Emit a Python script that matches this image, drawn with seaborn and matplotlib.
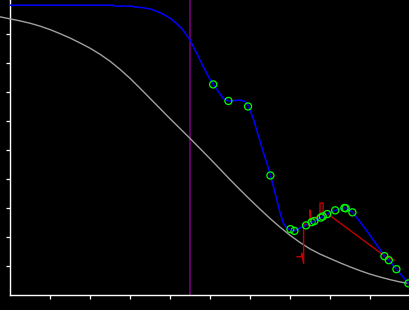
import matplotlib
matplotlib.use("Agg")
import matplotlib.pyplot as plt
import seaborn as sns
import pandas as pd

# ---- data (x in 0..10, y in 0..10) ----
gray_x = [-0.25, 0.0, 0.25, 0.5, 0.75, 1.0, 1.25, 1.5, 1.75, 2.0, 2.25, 2.5,
          2.75, 3.0, 3.25, 3.5, 3.75, 4.0, 4.25, 4.5, 4.75, 5.0, 5.25, 5.5,
          5.75, 6.0, 6.25, 6.5, 6.75, 7.0, 7.25, 7.5, 7.75, 8.0, 8.25, 8.5,
          8.75, 9.0, 9.25, 9.5, 9.75, 10.0]
gray_y = [9.60, 9.53, 9.46, 9.38, 9.28, 9.16, 9.02, 8.87, 8.70, 8.52, 8.31, 8.07,
          7.79, 7.48, 7.14, 6.79, 6.44, 6.09, 5.75, 5.41, 5.06, 4.71, 4.35, 3.99,
          3.64, 3.30, 2.97, 2.65, 2.35, 2.07, 1.82, 1.60, 1.42, 1.27, 1.12, 0.98,
          0.85, 0.73, 0.63, 0.54, 0.46, 0.40]

blue_x = [0.0, 1.0, 2.0, 2.58, 2.6, 3.05, 3.1, 3.3, 3.54, 3.79, 4.04, 4.29, 4.5,
          4.67, 4.83, 4.96, 5.08, 5.21, 5.33, 5.46, 5.58, 5.75, 5.88, 5.96,
          6.08, 6.21, 6.33, 6.46, 6.51, 6.59, 6.67, 6.75, 6.83, 6.92, 7.01,
          7.11, 7.25, 7.40, 7.54, 7.61, 7.77, 7.82, 7.93, 8.13, 8.25, 8.37,
          8.47, 8.56, 8.70, 8.875, 9.08, 9.22, 9.36, 9.47, 9.66, 9.96]
blue_y = [10.0, 10.0, 10.0, 10.0, 9.97, 9.97, 9.94, 9.92, 9.86, 9.72, 9.52, 9.21, 8.80,
          8.34, 7.88, 7.54, 7.27, 7.02, 6.79, 6.69, 6.71, 6.73, 6.68, 6.53,
          6.10, 5.50, 4.95, 4.38, 4.13, 3.72, 3.29, 2.85, 2.50, 2.31, 2.26,
          2.22, 2.32, 2.41, 2.52, 2.56, 2.68, 2.72, 2.80, 2.93, 2.98, 3.01,
          2.96, 2.86, 2.62, 2.31, 1.91, 1.64, 1.35, 1.21, 0.90, 0.41]

mark_x = [5.08, 5.46, 5.95, 6.51, 7.01, 7.11, 7.40, 7.54, 7.61, 7.77, 7.82, 7.93,
          8.13, 8.36, 8.39, 8.56, 9.36, 9.47, 9.66, 9.96]
mark_y = [7.27, 6.70, 6.51, 4.13, 2.28, 2.22, 2.41, 2.52, 2.56, 2.68, 2.72, 2.80,
          2.93, 3.01, 3.00, 2.86, 1.35, 1.21, 0.90, 0.41]

red_x = [7.17, 7.29, 7.29, 7.34, 7.34, 7.50, 7.50, 7.52, 7.62, 7.75, 7.75, 7.83,
         7.83, 7.95, 9.37, 9.61]
red_y = [1.33, 1.33, 1.45, 1.10, 2.46, 2.42, 2.94, 2.66, 2.66, 2.77, 3.18, 3.18,
         2.77, 2.80, 1.35, 1.21]

purple_x = 4.5
x_ticks = [1, 2, 3, 4, 5, 6, 7, 8, 9]
y_ticks = [1, 2, 3, 4, 5, 6, 7, 8, 9]
x_lim = (-0.25, 10.0)
y_lim = (-0.507, 10.18)

sns.set_style("dark", {"axes.facecolor": "black", "figure.facecolor": "black"})
fig = plt.figure(figsize=(4.1, 3.1), dpi=100, facecolor="black")
ax = fig.add_axes([0, 0, 1, 1])
ax.set_facecolor("black")

gray_df = pd.DataFrame({"x": gray_x, "y": gray_y})
blue_df = pd.DataFrame({"x": blue_x, "y": blue_y})
mark_df = pd.DataFrame({"x": mark_x, "y": mark_y})
red_df = pd.DataFrame({"x": red_x, "y": red_y})

ax.vlines(purple_x, 0, y_lim[1], color="#800080", lw=1.1, zorder=2)
sns.lineplot(data=gray_df, x="x", y="y", ax=ax, color="#a0a0a0", lw=1.0,
             sort=False, estimator=None, zorder=3)
sns.lineplot(data=red_df, x="x", y="y", ax=ax, color="#c00000", lw=1.0,
             sort=False, estimator=None, zorder=4)
sns.lineplot(data=blue_df, x="x", y="y", ax=ax, color="#0000ff", lw=1.1,
             sort=False, estimator=None, zorder=5)
sns.scatterplot(data=mark_df, x="x", y="y", ax=ax, s=26, facecolor="none",
                edgecolor="#00ff00", linewidth=0.9, zorder=6)
sns.scatterplot(data=mark_df, x="x", y="y", ax=ax, s=1.5, color="#000080",
                linewidth=0, zorder=7)

ax.set_xlim(*x_lim)
ax.set_ylim(*y_lim)
ax.set_xticks(x_ticks)
ax.set_yticks(y_ticks)
ax.set_xticklabels([])
ax.set_yticklabels([])
ax.set_xlabel("")
ax.set_ylabel("")
ax.grid(False)

for side in ("top", "right"):
    ax.spines[side].set_visible(False)
ax.spines["left"].set_position(("data", 0))
ax.spines["bottom"].set_position(("data", 0))
ax.spines["left"].set_bounds(0, y_lim[1])
ax.spines["bottom"].set_bounds(0, x_lim[1])
for side in ("left", "bottom"):
    ax.spines[side].set_color("white")
    ax.spines[side].set_linewidth(1.0)
ax.tick_params(axis="both", which="both", direction="out", length=2.6,
               width=0.9, color="white", bottom=True, left=True)

fig.savefig("out.png", dpi=100, facecolor="black")
